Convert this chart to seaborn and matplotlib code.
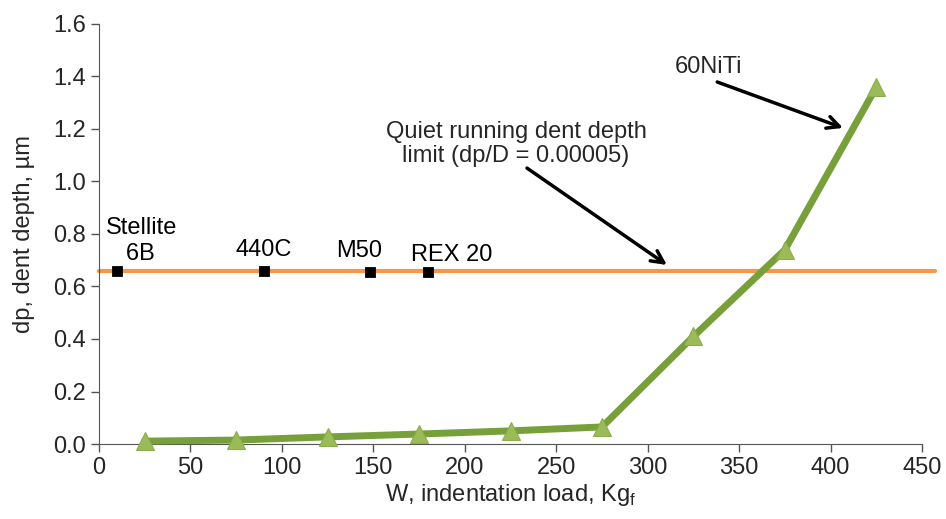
import matplotlib
matplotlib.use("Agg")
import matplotlib.pyplot as plt
import pandas as pd
import seaborn as sns

# ------------------------------------------------------------------
# Data
# ------------------------------------------------------------------
load_kgf = [25, 75, 125, 175, 225, 275, 325, 375, 425]
dent_depth_um = [0.011, 0.015, 0.027, 0.038, 0.05, 0.065, 0.41, 0.74, 1.36]

limit_depth = 0.66
limit_x = [0, 457]

alloys = ["Stellite\n   6B", "440C", "M50", "REX 20"]
alloy_load = [10, 90, 148, 180]
alloy_depth = [0.66, 0.66, 0.655, 0.655]

df = pd.DataFrame({"load": load_kgf, "depth": dent_depth_um})
df_alloy = pd.DataFrame({"name": alloys, "load": alloy_load, "depth": alloy_depth})
df_limit = pd.DataFrame({"load": limit_x, "depth": [limit_depth] * len(limit_x)})

# ------------------------------------------------------------------
# Styling
# ------------------------------------------------------------------
sns.set_style("ticks")
plt.rcParams["font.family"] = ["Liberation Sans", "DejaVu Sans"]

fig = plt.figure(figsize=(9.46, 5.19), dpi=100)
ax = fig.add_axes([0.1047, 0.1445, 0.87, 0.8093])

# Quiet running limit line
sns.lineplot(data=df_limit, x="load", y="depth", color="#F79646", lw=3,
             ax=ax, clip_on=False, zorder=2)

# 60NiTi series
sns.lineplot(data=df, x="load", y="depth", color="#77A03A", lw=5,
             marker="^", markersize=13.5, markerfacecolor="#9BBB59",
             markeredgecolor="#8AAE4E", markeredgewidth=0.8,
             ax=ax, zorder=3, clip_on=False)

# Reference alloys
sns.scatterplot(data=df_alloy, x="load", y="depth", marker="s", s=55,
                color="black", edgecolor="black", ax=ax, zorder=4)

# label offsets (data units) relative to each square
label_offsets = [(-6, 0.113), (0, 0.08), (-6, 0.08), (13, 0.065)]
for (name, x, y), (dx, dy) in zip(zip(alloys, alloy_load, alloy_depth), label_offsets):
    ha = "left" if name.startswith("Stellite") else "center"
    ax.text(x + dx, y + dy, name, ha=ha, va="center", fontsize=17,
            color="black", linespacing=1.2)

# Annotations
arrow = dict(arrowstyle="->", color="black", lw=2.5, mutation_scale=22,
             shrinkA=0, shrinkB=0)
ax.text(228, 1.143, "Quiet running dent depth\nlimit (dp/D = 0.00005)",
        ha="center", va="center", fontsize=17, linespacing=1.1)
ax.annotate("", xy=(310.5, 0.682), xytext=(234, 1.051), arrowprops=arrow)
ax.text(333, 1.436, "60NiTi", ha="center", va="center", fontsize=17)
ax.annotate("", xy=(406.8, 1.204), xytext=(338, 1.379), arrowprops=arrow)

ax.set_xlim(0, 450)
ax.set_ylim(0, 1.6)
ax.set_xticks(range(0, 451, 50))
ax.set_yticks([0.0, 0.2, 0.4, 0.6, 0.8, 1.0, 1.2, 1.4, 1.6])
ax.set_yticklabels([f"{v:.1f}" for v in ax.get_yticks()])
ax.tick_params(axis="both", labelsize=17, length=6, width=1, color="#555555",
               direction="out")
ax.spines["left"].set_color("#555555")
ax.spines["bottom"].set_color("#555555")
sns.despine(ax=ax)

ax.set_xlabel("W, indentation load, Kg$_\\mathregular{f}$", fontsize=17, labelpad=2)
ax.set_ylabel("dp, dent depth, µm", fontsize=17, labelpad=13)

fig.savefig("out.png", dpi=100)
